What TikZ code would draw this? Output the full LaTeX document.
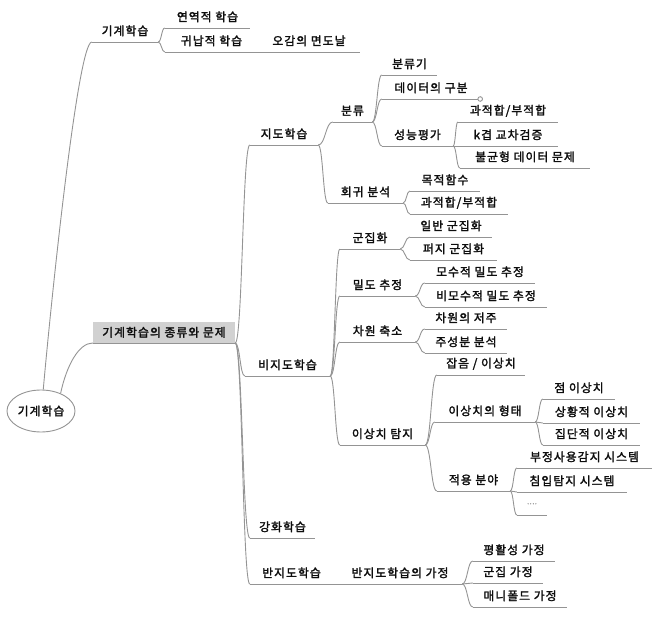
\documentclass[tikz,border=0pt]{standalone}
\usepackage{fontspec}
\setmainfont{Noto Sans CJK KR}[FakeBold=2, LetterSpace=9]
\usetikzlibrary{calc,shapes.geometric}
\newcommand\tfont{\fontsize{11.8}{13}\selectfont}
\newcommand\Tp[5]{\node[topic, minimum width={(#3-#2)*1pt}] (#1) at ({(#2+#3)/2},#4) {#5};}
\newcommand\Br[2]{\draw[ln] let \p1=(#1.south east), \p2=(#2.south west), \n1={(\x2-\x1)/2} in (\p1) .. controls +(\n1,0) and +(-\n1,0) .. (\p2);}
\begin{document}
\begin{tikzpicture}[x=1pt,y=-1pt,
  ln/.style={draw=black!42, line width=0.9pt},
  topic/.style={font=\tfont, text=black!95, inner sep=0pt, minimum height=22pt, anchor=south}]
\useasboundingbox (0,0) rectangle (664,617);

\node[draw=black!42, line width=0.9pt, ellipse, minimum width=68pt, minimum height=42pt, inner sep=0pt, font=\tfont, text=black!95] (root) at (41,411) {기계학습};
\node[font=\tfont, text=black!95, fill=black!18, inner sep=0pt, minimum width=142pt, minimum height=21pt, anchor=south] (main) at (164,343) {기계학습의 종류와 문제};

\Tp{top}{92}{158}{42}{기계학습}
\Tp{yeon}{165}{250}{28}{연역적 학습}
\Tp{gwi}{165}{258}{52}{귀납적 학습}
\Tp{ogam}{258}{360}{52}{오감의 면도날}

\Tp{ji}{250}{318}{145}{지도학습}
\Tp{bun}{333}{372}{122}{분류}
\Tp{bgi}{382}{437}{75}{분류기}
\Tp{dgu}{382}{480}{99}{데이터의 구분}
\Tp{sng}{382}{453}{146}{성능평가}
\Tp{gwa1}{458}{558}{122}{과적합/부적합}
\Tp{kgg}{458}{558}{146}{k겹 교차검증}
\Tp{bul}{460}{590}{168}{불균형 데이터 문제}
\Tp{hoe}{328}{403}{203}{회귀 분석}
\Tp{mok}{410}{480}{191}{목적함수}
\Tp{gwa2}{410}{508}{214}{과적합/부적합}

\Tp{bij}{245}{330}{376}{비지도학습}
\Tp{gun}{340}{400}{249}{군집화}
\Tp{il}{410}{492}{237}{일반 군집화}
\Tp{pe}{410}{497}{260}{퍼지 군집화}
\Tp{mil}{340}{415}{296}{밀도 추정}
\Tp{mo}{425}{535}{283}{모수적 밀도 추정}
\Tp{bimo}{425}{547}{307}{비모수적 밀도 추정}
\Tp{cha}{340}{415}{342}{차원 축소}
\Tp{chj}{425}{507}{329}{차원의 저주}
\Tp{ju}{425}{507}{353}{주성분 분석}
\Tp{isang}{340}{425}{445}{이상치 탐지}
\Tp{jab}{437}{525}{375}{잡음 / 이상치}
\Tp{hyeong}{435}{535}{422}{이상치의 형태}
\Tp{jeom}{543}{615}{399}{점 이상치}
\Tp{sang}{543}{640}{423}{상황적 이상치}
\Tp{jip}{543}{640}{445}{집단적 이상치}
\Tp{jeok}{437}{510}{491}{적용 분야}
\Tp{bu}{517}{652}{468}{부정사용감지 시스템}
\Tp{chim}{517}{627}{492}{침입탐지 시스템}
\node[topic, minimum width=30pt, font=\fontsize{7}{8}\selectfont, text=black!45] (dots) at (532,515) {....};

\Tp{gang}{250}{315}{538}{강화학습}
\Tp{banji}{250}{333}{584}{반지도학습}
\Tp{bga}{338}{462}{584}{반지도학습의 가정}
\Tp{pyeong}{473}{555}{561}{평활성 가정}
\Tp{gunjip}{473}{543}{583}{군집 가정}
\Tp{mani}{473}{567}{607}{매니폴드 가정}

\foreach \n in {main,top,yeon,gwi,ogam,ji,bun,bgi,dgu,sng,gwa1,kgg,bul,hoe,mok,gwa2,
  bij,gun,il,pe,mil,mo,bimo,cha,chj,ju,isang,jab,hyeong,jeom,sang,jip,jeok,bu,chim,dots,
  gang,banji,bga,pyeong,gunjip,mani}
  \draw[ln] (\n.south west) -- (\n.south east);

\draw[ln] (root.84) .. controls +(8,-90) and +(-14,0) .. (top.south west);
\draw[ln] (root.42) .. controls +(6,-28) and +(-14,0) .. (main.south west);

\Br{top}{yeon} \Br{top}{gwi} \Br{gwi}{ogam}
\Br{main}{ji} \Br{main}{bij} \Br{main}{gang} \Br{main}{banji}
\Br{ji}{bun} \Br{ji}{hoe}
\Br{bun}{bgi} \Br{bun}{dgu} \Br{bun}{sng}
\Br{sng}{gwa1} \Br{sng}{kgg} \Br{sng}{bul}
\Br{hoe}{mok} \Br{hoe}{gwa2}
\Br{bij}{gun} \Br{bij}{mil} \Br{bij}{cha} \Br{bij}{isang}
\Br{gun}{il} \Br{gun}{pe}
\Br{mil}{mo} \Br{mil}{bimo}
\Br{cha}{chj} \Br{cha}{ju}
\Br{isang}{jab} \Br{isang}{hyeong} \Br{isang}{jeok}
\Br{hyeong}{jeom} \Br{hyeong}{sang} \Br{hyeong}{jip}
\Br{jeok}{bu} \Br{jeok}{chim} \Br{jeok}{dots}
\Br{banji}{bga}
\Br{bga}{pyeong} \Br{bga}{gunjip} \Br{bga}{mani}

\draw[ln, fill=white] (dgu.south east) circle (2.3pt);
\end{tikzpicture}
\end{document}
